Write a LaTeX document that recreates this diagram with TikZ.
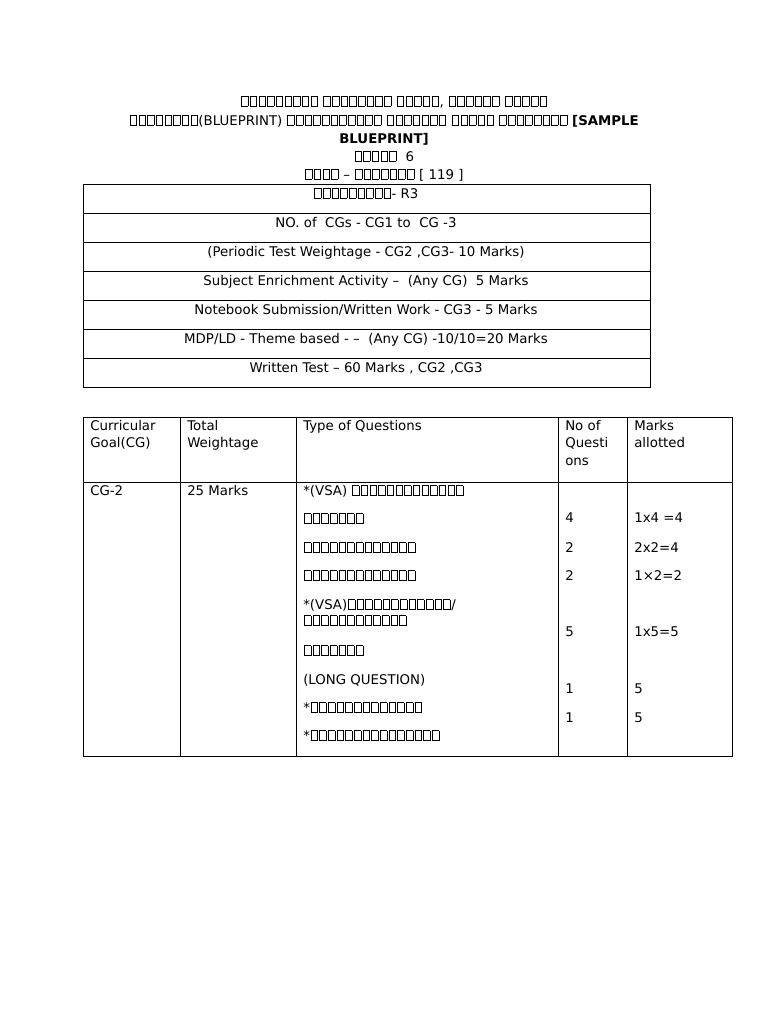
\documentclass[tikz,border=0pt]{standalone}
\usepackage{fontspec}
\setmainfont{DejaVu Sans}
\newcount\tfn
% missing-glyph boxes, as the reference prints them
\newcommand\tofu{\kern0.6pt{\fboxsep=0pt\fboxrule=0.45pt\fbox{\rule{0pt}{7.2pt}\hspace{4.4pt}}}\kern0.6pt}
\newcommand\tf[1]{\tfn=0 \loop\tofu\advance\tfn by1 \ifnum\tfn<#1\repeat}
\tikzset{cell/.style={anchor=north west, inner sep=0pt, align=left},
  ctext/.style={anchor=base, inner sep=0pt},
  grid/.style={draw, line width=0.6pt}}
\begin{document}
\begin{tikzpicture}[x=0.75pt,y=-0.75pt,font=\fontsize{10}{13}\selectfont]
\useasboundingbox (0,0) rectangle (768,1024);
% heading
\node[ctext] (h1) at (394,106) {\tf9 \tf8 \tf5, \tf6 \tf5};
\node[ctext] (h2) at (384,125) {\tf8(BLUEPRINT) \tf{11} \tf7 \tf5 \tf8 \textbf{[SAMPLE}};
\node[ctext] (h3) at (384,143) {\textbf{BLUEPRINT]}};
\node[ctext] (h4) at (384,161) {\tf5~~6};
\node[ctext] (h5) at (384,179) {\tf4 – \tf7 [ 119 ]};
% upper box
\foreach \y in {184,213,242,271,300,329,358} \draw[grid] (83,\y) rectangle (650,\y+29);
\node[ctext] (r1) at (366,198) {\tf9- R3};
\node[ctext] (r2) at (366,227) {NO. of~~CGs - CG1 to~~CG -3};
\node[ctext] (r3) at (366,256) {(Periodic Test Weightage - CG2 ,CG3- 10 Marks)};
\node[ctext] (r4) at (366,285) {Subject Enrichment Activity –~~(Any CG)~~5 Marks};
\node[ctext] (r5) at (366,314) {Notebook Submission/Written Work - CG3 - 5 Marks};
\node[ctext] (r6) at (366,343) {MDP/LD - Theme based - –~~(Any CG) -10/10=20 Marks};
\node[ctext] (r7) at (366,372) {Written Test – 60 Marks , CG2 ,CG3};
% lower table
\draw[grid] (83,417) rectangle (732,756);
\draw[grid] (83,482) -- (732,482);
\foreach \x in {180,296,558,627} \draw[grid] (\x,417) -- (\x,756);
\node[cell] (c1) at (90,420) {Curricular\\Goal(CG)};
\node[cell] (c2) at (187,420) {Total\\Weightage};
\node[cell] (c3) at (303,420) {Type of Questions};
\node[cell] (c4) at (565,420) {No of\\Questi\\ons};
\node[cell] (c5) at (634,420) {Marks\\allotted};
\node[cell] (g) at (90,485) {CG-2};
\node[cell] (w) at (187,485) {25 Marks};
\node[cell] (q1) at (303,485) {*(VSA) \tf{13}};
\node[cell] (q2) at (303,513) {\tf7};
\node[cell] (q3) at (303,542) {\tf{13}};
\node[cell] (q4) at (303,570) {\tf{13}};
\node[cell] (q5) at (303,599) {*(VSA)\tf{12}/\\[-1pt]\tf{12}};
\node[cell] (q6) at (303,645) {\tf7};
\node[cell] (q7) at (303,674) {(LONG QUESTION)};
\node[cell] (q8) at (303,702) {*\tf{13}};
\node[cell] (q9) at (303,730) {*\tf{15}};
\foreach \n/\y/\m in {4/513/1x4 =4, 2/542/2x2=4, 2/570/1×2=2, 5/627/1x5=5, 1/684/5, 1/713/5} {
  \node[cell] at (565,\y) {\n};
  \node[cell] at (634,\y) {\m};
}
\end{tikzpicture}
\end{document}
